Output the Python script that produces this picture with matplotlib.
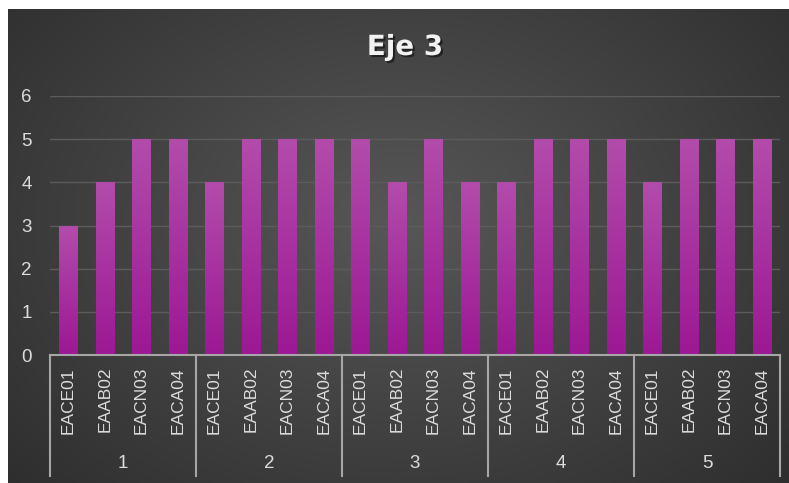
import numpy as np
import matplotlib
matplotlib.use("Agg")
import matplotlib.pyplot as plt
import matplotlib.patheffects as pe
from matplotlib.transforms import blended_transform_factory

# ---- data ----
groups = ["1", "2", "3", "4", "5"]
subcats = ["EACE01", "EAAB02", "EACN03", "EACA04"]
values = [3, 4, 5, 5,
          4, 5, 5, 5,
          5, 4, 5, 4,
          4, 5, 5, 5,
          4, 5, 5, 5]
title = "Eje 3"
yticks = [0, 1, 2, 3, 4, 5, 6]

W, H = 789, 483
fig = plt.figure(figsize=(W / 100, H / 100), dpi=100)
fig.patch.set_facecolor("white")

# background radial gradient
bg = fig.add_axes([8 / W, 0, (W - 8) / W, (H - 9) / H])
bg.set_axis_off()
yy, xx = np.mgrid[0:1:300j, 0:1:500j]
r = np.sqrt(((xx - 0.5) / 0.75) ** 2 + ((yy - 0.55) / 0.9) ** 2)
r = np.clip(r, 0, 1)
c0 = np.array([0x57, 0x57, 0x57]) / 255
c1 = np.array([0x2a, 0x2a, 0x2a]) / 255
img = c0[None, None, :] * (1 - r[..., None]) + c1[None, None, :] * r[..., None]
bg.imshow(img, aspect="auto", extent=[0, 1, 0, 1], origin="lower")
bg.set_xlim(0, 1)
bg.set_ylim(0, 1)

# main axes
left, right = 50 / W, 780 / W
bottom, top = (H - 355) / H, (H - 96) / H
ax = fig.add_axes([left, bottom, right - left, top - bottom])
ax.set_facecolor("none")
n = len(values)
x = np.arange(n)
for t in yticks[1:]:
    ax.axhline(t, color="#5c5c5c", lw=1.0, zorder=0)

bars = ax.bar(x, values, width=0.5, color="#a5259d", zorder=2)
grad = np.linspace(0, 1, 256)[:, None]
top_c = np.array([0xb2, 0x4c, 0xab]) / 255
bot_c = np.array([0x9c, 0x18, 0x94]) / 255
gimg = bot_c[None, None, :] * (1 - grad[..., None]) + top_c[None, None, :] * grad[..., None]
gimg = np.repeat(gimg, 2, axis=1)
for b in bars:
    bx, bw, bh = b.get_x(), b.get_width(), b.get_height()
    im = ax.imshow(gimg, extent=[bx, bx + bw, 0, bh], origin="lower",
                   aspect="auto", zorder=3)
    im.set_clip_path(b)
ax.set_xlim(-0.5, n - 0.5)
ax.set_ylim(0, 6)

for s in ax.spines.values():
    s.set_visible(False)
ax.set_xticks([])
ax.set_yticks(yticks)
ax.tick_params(axis="y", length=0, pad=13, labelsize=13.5, labelcolor="#dcdcdc")
for lab in ax.get_yticklabels():
    lab.set_fontfamily("Liberation Sans")

# category axis
line_c = "#a6a6a6"
ax.axhline(0, color=line_c, lw=1.5, zorder=4, clip_on=False)
trans = blended_transform_factory(ax.transData, fig.transFigure)
y_axis = bottom
y_end = (H - 476) / H
for g in range(len(groups) + 1):
    xb = g * len(subcats) - 0.5
    ax.plot([xb, xb], [y_axis, y_end], color=line_c, lw=1.5,
            transform=trans, clip_on=False)
for i in range(n):
    ax.text(x[i], (H - 367) / H, subcats[i % len(subcats)], rotation=90,
            ha="center", va="top", color="#dcdcdc", fontsize=12.5,
            family="Liberation Sans", transform=trans)
for g, name in enumerate(groups):
    xc = g * len(subcats) + (len(subcats) - 1) / 2
    ax.text(xc, (H - 463) / H, name, ha="center", va="center",
            color="#dcdcdc", fontsize=13.5, family="Liberation Sans", transform=trans)

fig.text(405 / W, (H - 47) / H, title, ha="center", va="center",
         color="#f2f2f2", fontsize=20, fontweight="bold", family="DejaVu Sans",
         path_effects=[pe.withSimplePatchShadow(offset=(1.5, -1.5),
                                                 shadow_rgbFace="black", alpha=0.5)])

fig.savefig("out.png", dpi=100, facecolor=fig.get_facecolor())
